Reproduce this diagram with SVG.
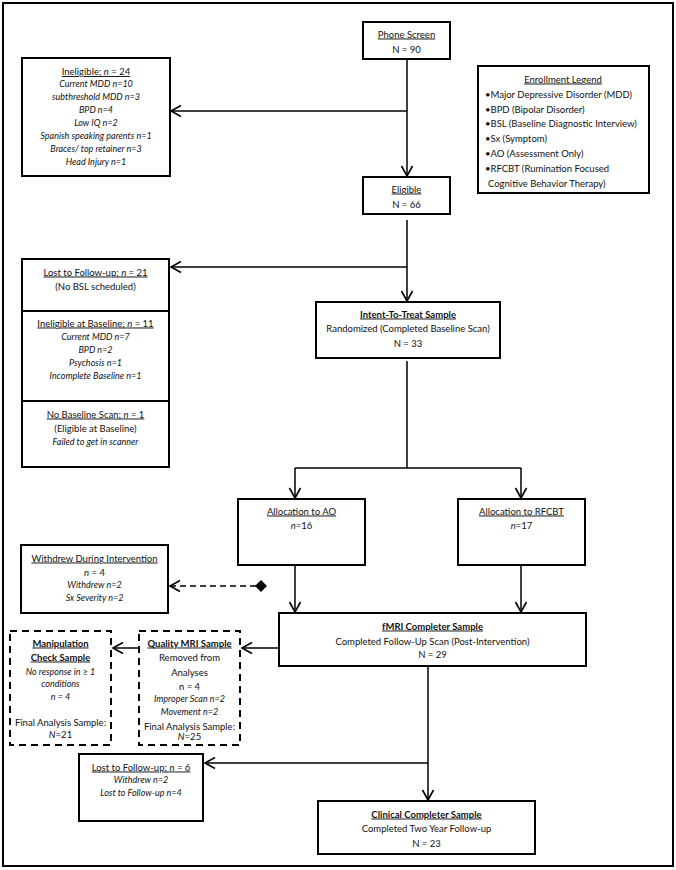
<svg xmlns="http://www.w3.org/2000/svg" width="676" height="870" viewBox="0 0 676 870">
<style>
text{font-family:Lato,"Liberation Sans",sans-serif;font-size:9.5px;fill:#111;text-anchor:middle}
.u{text-decoration:underline}
.b{font-weight:bold}
.i{font-style:italic;font-size:9px}
.l{text-anchor:start}
.box{fill:#fff;stroke:#000;stroke-width:2}
.dbox{fill:#fff;stroke:#000;stroke-width:2;stroke-dasharray:7,5}
.c{fill:none;stroke:#000;stroke-width:1.5}
</style>
<defs>
<marker id="ah" markerUnits="userSpaceOnUse" markerWidth="14" markerHeight="14" viewBox="0 0 14 14" refX="12" refY="7" orient="auto">
<path d="M2,1.5 L12,7 L2,12.5" fill="none" stroke="#000" stroke-width="1.6"/>
</marker>
</defs>
<rect x="0" y="0" width="676" height="870" fill="#fff"/>
<rect x="3" y="3" width="670" height="863" fill="none" stroke="#000" stroke-width="2"/>
<g id="connectors">
<path class="c" d="M407,59 V176" marker-end="url(#ah)"/>
<path class="c" d="M407,111 H171" marker-end="url(#ah)"/>
<path class="c" d="M407,220 V301" marker-end="url(#ah)"/>
<path class="c" d="M407,267 H171" marker-end="url(#ah)"/>
<path class="c" d="M407,361 V468 M295,468 H521"/>
<path class="c" d="M295,468 V498" marker-end="url(#ah)"/>
<path class="c" d="M521,468 V498" marker-end="url(#ah)"/>
<path class="c" d="M295,565 V612" marker-end="url(#ah)"/>
<path class="c" d="M521,565 V612" marker-end="url(#ah)"/>
<path class="c" d="M256,586 H170" stroke-dasharray="6,4" marker-end="url(#ah)"/>
<path d="M261,580 L267,586 L261,592 L255,586 Z" fill="#000"/>
<path class="c" d="M279,648 H242" marker-end="url(#ah)"/>
<path class="c" d="M139,648 H113" marker-end="url(#ah)"/>
<path class="c" d="M428,666 V800" marker-end="url(#ah)"/>
<path class="c" d="M428,763 H205" marker-end="url(#ah)"/>
</g>
<g id="phone">
<rect class="box" x="363" y="22" width="87" height="37"/>
<text x="406.5" y="37.5" class="u">Phone Screen</text>
<text x="406.5" y="52.5">N = 90</text>
</g>
<g id="ineligible">
<rect class="box" x="22" y="58" width="148" height="118"/>
<text x="96" y="75" class="u">Ineligible; <tspan font-style="italic">n</tspan> = 24</text>
<text x="96" y="87" class="i">Current MDD n=10</text>
<text x="96" y="100" class="i">subthreshold MDD n=3</text>
<text x="96" y="113" class="i">BPD n=4</text>
<text x="96" y="126" class="i">Low IQ n=2</text>
<text x="96" y="139" class="i">Spanish speaking parents n=1</text>
<text x="96" y="152" class="i">Braces/ top retainer n=3</text>
<text x="96" y="165" class="i">Head Injury n=1</text>
</g>
<g id="legend">
<rect class="box" x="478" y="66" width="171" height="127"/>
<text x="563" y="82.5" class="u">Enrollment Legend</text>
<text x="485" y="97.5" class="l">•Major Depressive Disorder (MDD)</text>
<text x="485" y="112.5" class="l">•BPD (Bipolar Disorder)</text>
<text x="485" y="126.5" class="l">•BSL (Baseline Diagnostic Interview)</text>
<text x="485" y="141.5" class="l">•Sx (Symptom)</text>
<text x="485" y="156.5" class="l">•AO (Assessment Only)</text>
<text x="485" y="171.5" class="l">•RFCBT (Rumination Focused</text>
<text x="488" y="186.5" class="l">Cognitive Behavior Therapy)</text>
</g>
<g id="eligible">
<rect class="box" x="363" y="177" width="87" height="37"/>
<text x="406.5" y="192.5" class="u">Eligible</text>
<text x="406.5" y="207.5">N = 66</text>
</g>
<g id="lost21">
<rect class="box" x="22" y="259" width="147" height="52"/>
<text x="95.5" y="275.5" class="u">Lost to Follow-up; <tspan font-style="italic">n</tspan> = 21</text>
<text x="95.5" y="289.5">(No BSL scheduled)</text>
</g>
<g id="inelBaseline">
<rect class="box" x="22" y="311" width="147" height="90"/>
<text x="95.5" y="326.5" class="u">Ineligible at Baseline; <tspan font-style="italic">n</tspan> = 11</text>
<text x="95.5" y="340" class="i">Current MDD n=7</text>
<text x="95.5" y="352.5" class="i">BPD n=2</text>
<text x="95.5" y="365.5" class="i">Psychosis n=1</text>
<text x="95.5" y="378.5" class="i">Incomplete Baseline n=1</text>
</g>
<g id="noBaseline">
<rect class="box" x="22" y="401" width="147" height="66"/>
<text x="95.5" y="417.5" class="u">No Baseline Scan; <tspan font-style="italic">n</tspan> = 1</text>
<text x="95.5" y="431.5">(Eligible at Baseline)</text>
<text x="95.5" y="445" class="i">Failed to get in scanner</text>
</g>
<g id="itt">
<rect class="box" x="316" y="302" width="184" height="56"/>
<text x="408" y="317.5" class="u b">Intent-To-Treat Sample</text>
<text x="408" y="331.5">Randomized (Completed Baseline Scan)</text>
<text x="408" y="346.5">N = 33</text>
</g>
<g id="ao">
<rect class="box" x="238" y="499" width="127" height="66"/>
<text x="301.5" y="514.5" class="u">Allocation to AO</text>
<text x="301.5" y="528.5"><tspan font-style="italic">n</tspan>=16</text>
</g>
<g id="rfcbt">
<rect class="box" x="458" y="499" width="127" height="66"/>
<text x="521.5" y="514.5" class="u">Allocation to RFCBT</text>
<text x="521.5" y="528.5"><tspan font-style="italic">n</tspan>=17</text>
</g>
<g id="withdrew">
<rect class="box" x="21" y="545" width="147" height="68"/>
<text x="94.5" y="561.5" class="u">Withdrew During Intervention</text>
<text x="94.5" y="575.5"><tspan font-style="italic">n</tspan> = 4</text>
<text x="94.5" y="588" class="i">Withdrew n=2</text>
<text x="94.5" y="601" class="i">Sx Severity n=2</text>
</g>
<g id="fmri">
<rect class="box" x="279" y="613" width="307" height="53"/>
<text x="432.5" y="629.5" class="u b">fMRI Completer Sample</text>
<text x="432.5" y="644.5">Completed Follow-Up Scan (Post-Intervention)</text>
<text x="432.5" y="657.5">N = 29</text>
</g>
<g id="quality">
<rect class="dbox" x="139" y="631" width="101" height="114"/>
<text x="189.5" y="646.5" class="u b">Quality MRI Sample</text>
<text x="189.5" y="660.5">Removed from</text>
<text x="189.5" y="675.5">Analyses</text>
<text x="189.5" y="689.5">n = 4</text>
<text x="189.5" y="702" class="i">Improper Scan n=2</text>
<text x="189.5" y="715" class="i">Movement n=2</text>
<text x="189.5" y="729.5">Final Analysis Sample:</text>
<text x="189.5" y="740"><tspan font-style="italic">N</tspan>=25</text>
</g>
<g id="manipulation">
<rect class="dbox" x="10" y="631" width="101" height="114"/>
<text x="60.5" y="646.5" class="u b">Manipulation</text>
<text x="60.5" y="660.5" class="u b">Check Sample</text>
<text x="60.5" y="675" class="i">No response in ≥ 1</text>
<text x="60.5" y="687" class="i">conditions</text>
<text x="60.5" y="700" class="i">n = 4</text>
<text x="60.5" y="725.5">Final Analysis Sample:</text>
<text x="60.5" y="738"><tspan font-style="italic">N</tspan>=21</text>
</g>
<g id="lost6">
<rect class="box" x="79" y="754" width="124" height="67"/>
<text x="141" y="770.5" class="u">Lost to Follow-up; <tspan font-style="italic">n</tspan> = 6</text>
<text x="141" y="783" class="i">Withdrew n=2</text>
<text x="141" y="796" class="i">Lost to Follow-up n=4</text>
</g>
<g id="clinical">
<rect class="box" x="318" y="801" width="217" height="53"/>
<text x="426.5" y="817.5" class="u b">Clinical Completer Sample</text>
<text x="426.5" y="831.5">Completed Two Year Follow-up</text>
<text x="426.5" y="846.5">N = 23</text>
</g>
</svg>
